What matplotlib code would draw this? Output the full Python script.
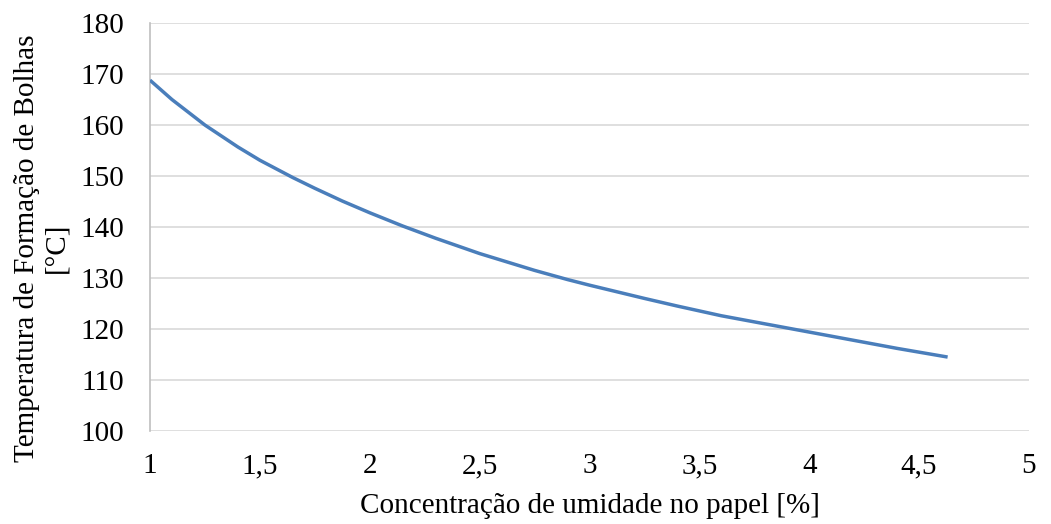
import matplotlib
matplotlib.use('Agg')
import matplotlib.pyplot as plt
from matplotlib.ticker import FuncFormatter

### Data
umidade = [1.0, 1.1, 1.25, 1.4, 1.5, 1.65, 1.75, 1.875, 2.0, 2.15, 2.3, 2.5, 2.75, 2.9,
           3.0, 3.25, 3.4, 3.6, 3.8, 3.95, 4.2, 4.4, 4.63]
temperatura = [168.8, 165.0, 160.0, 155.7, 153.1, 149.7, 147.6, 145.1, 142.8, 140.2, 137.8, 134.8, 131.5, 129.7,
               128.6, 126.0, 124.5, 122.6, 121.0, 119.8, 117.8, 116.2, 114.5]

x_ticks = [1, 1.5, 2, 2.5, 3, 3.5, 4, 4.5, 5]
y_ticks = [100, 110, 120, 130, 140, 150, 160, 170, 180]

plt.rcParams['font.family'] = ['Liberation Serif', 'DejaVu Serif']

fig = plt.figure(figsize=(10.51, 5.24), dpi=100)
ax = fig.add_axes([0.1427, 0.1775, 0.8363, 0.7785])

ax.plot(umidade, temperatura, color='#4a7ebb', linewidth=2.5, solid_capstyle='butt',
        solid_joinstyle='round', zorder=3)

ax.set_xlim(1, 5)
ax.set_ylim(100, 180)
ax.set_xticks(x_ticks)
ax.set_yticks(y_ticks)
ax.xaxis.set_major_formatter(FuncFormatter(lambda v, p: ('%g' % v).replace('.', ',')))

ax.grid(axis='y', color='#d9d9d9', linewidth=1.2, zorder=0)
for s in ['top', 'right', 'bottom']:
    ax.spines[s].set_visible(False)
ax.spines['left'].set_color('#bfbfbf')
ax.spines['left'].set_linewidth(1.2)
ax.tick_params(axis='y', length=0, labelsize=21, colors='black', pad=18.5)
ax.tick_params(axis='x', length=0, labelsize=21, colors='black', pad=16)

ax.set_xlabel('Concentração de umidade no papel [%]', fontsize=21, labelpad=10)
ax.set_ylabel('Temperatura de Formação de Bolhas\n[°C]', fontsize=21, linespacing=1.15)
ax.yaxis.set_label_coords(-0.0922, 0.4485)

fig.savefig('out.png', dpi=100)
